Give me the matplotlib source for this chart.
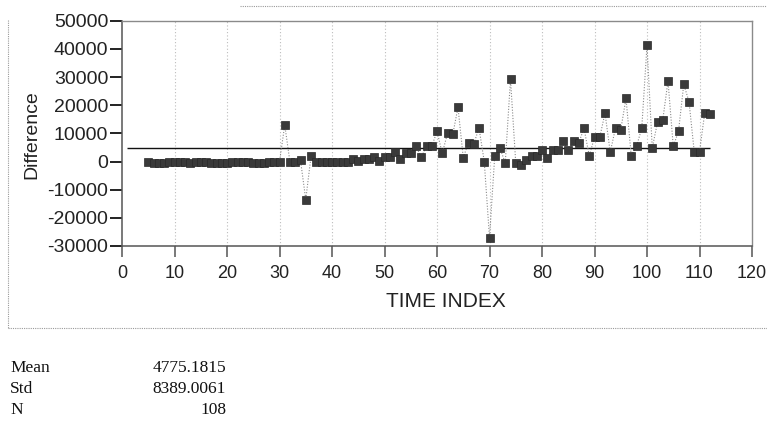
"""
Difference vs time index -- run chart with mean line and summary stats
"""

import matplotlib
matplotlib.use('Agg')
import matplotlib.pyplot as plt
from matplotlib.lines import Line2D

# ---- data ----
time_index = list(range(5, 113))
difference = [
    0, -500, -500, -500, -100, -100, -100, -100, -400, -100,        # 5-14
    -100, -100, -500, -500, -500, -500, -100, -100, -100, -100,     # 15-24
    -500, -500, -500, -300, -300, -100, 13000, -300, -300, 400,     # 25-34
    -13500, 1800, -300, -300, -300, -300, -300, -300, -200, 800,    # 35-44
    200, 900, 900, 1500, 100, 1500, 1500, 3500, 900, 2900,          # 45-54
    2900, 5500, 1500, 5400, 5400, 10700, 2900, 10000, 9600, 19200,  # 55-64
    1400, 6700, 6200, 11900, 0, -27000, 2000, 4700, -500, 29200,    # 65-74
    -500, -1300, 600, 2000, 2000, 4100, 1400, 4100, 4100, 7300,     # 75-84
    4000, 7300, 6600, 11800, 2000, 8600, 8600, 17200, 3300, 11900,  # 85-94
    11300, 22400, 2000, 5400, 11800, 41200, 4800, 13900, 14700, 28600,  # 95-104
    5400, 10700, 27400, 21300, 3400, 3400, 17300, 16700,            # 105-112
]
mean_value = 4775.1815
mean_start = 1

x_ticks = list(range(0, 121, 10))
y_ticks = list(range(-30000, 50001, 10000))

stat_names = ['Mean', 'Std', 'N']
stat_values = ['4775.1815', '8389.0061', '108']

W, H = 767, 421
SANS = ['Liberation Sans', 'DejaVu Sans']
SERIF = ['Liberation Serif', 'DejaVu Serif']


def fx(px):
    return px / W


def fy(py):
    return 1 - py / H


fig = plt.figure(figsize=(W / 100, H / 100), dpi=100)
fig.patch.set_facecolor('white')
ax = fig.add_axes([fx(122), fy(246), (752 - 122) / W, (246 - 20.7) / H])

# vertical dotted grid
for t in x_ticks[1:-1]:
    ax.axvline(t, color='#bdbdbd', lw=0.8, ls=(0, (1, 2)), zorder=0)

# mean line
ax.hlines(mean_value, mean_start, time_index[-1], color='#111111', lw=1.0, zorder=2)

# series: dotted connectors + square markers
ax.plot(time_index, difference, color='#8a8a8a', lw=0.8, ls=(0, (1, 1.5)), zorder=3)
ax.plot(time_index, difference, ls='none', marker='s', ms=5.6,
        mfc='#3a3a3a', mec='#2a2a2a', mew=0.5, zorder=4)

ax.set_xlim(0, 120)
ax.set_ylim(-30000, 50000)
ax.set_xticks(x_ticks)
ax.set_yticks(y_ticks)
ax.set_xticklabels([str(t) for t in x_ticks], family=SANS, fontsize=13, color='#222222')
ax.set_yticklabels([str(t) for t in y_ticks], family=SANS, fontsize=14, color='#222222')
ax.tick_params(axis='x', direction='out', length=8, width=1.1, color='#555555', pad=6)
ax.tick_params(axis='y', direction='out', length=8.5, width=1.4, color='#222222', pad=1.5)

for side in ['left', 'bottom']:
    ax.spines[side].set_color('#555555')
    ax.spines[side].set_linewidth(1.1)
for side in ['top', 'right']:
    ax.spines[side].set_color('#8a8a8a')
    ax.spines[side].set_linewidth(1.0)

ax.set_xlabel('TIME INDEX', family=SANS, fontsize=15, color='#222222')
ax.xaxis.set_label_coords((446 - 122) / 630, (246 - 292) / 225.3)
ax.set_ylabel('Difference', family=SANS, fontsize=14, color='#222222')
ax.yaxis.set_label_coords((40 - 122) / 630, (246 - 135) / 225.3)

# dotted frame of the report panel
frame = dict(color='#9a9a9a', lw=0.8, ls=(0, (1, 1)))
fig.add_artist(Line2D([fx(240), fx(767)], [fy(6), fy(6)], **frame))
fig.add_artist(Line2D([fx(8), fx(8)], [fy(20), fy(328)], **frame))
fig.add_artist(Line2D([fx(8), fx(767)], [fy(328), fy(328)], **frame))

# summary statistics below the chart
for i, (name, val) in enumerate(zip(stat_names, stat_values)):
    y = fy(368 + 21 * i)
    fig.text(fx(10), y, name, family=SERIF, fontsize=12.5, va='center', ha='left', color='#111111')
    fig.text(fx(226), y, val, family=SERIF, fontsize=12.5, va='center', ha='right', color='#111111')

fig.savefig('out.png', dpi=100)
